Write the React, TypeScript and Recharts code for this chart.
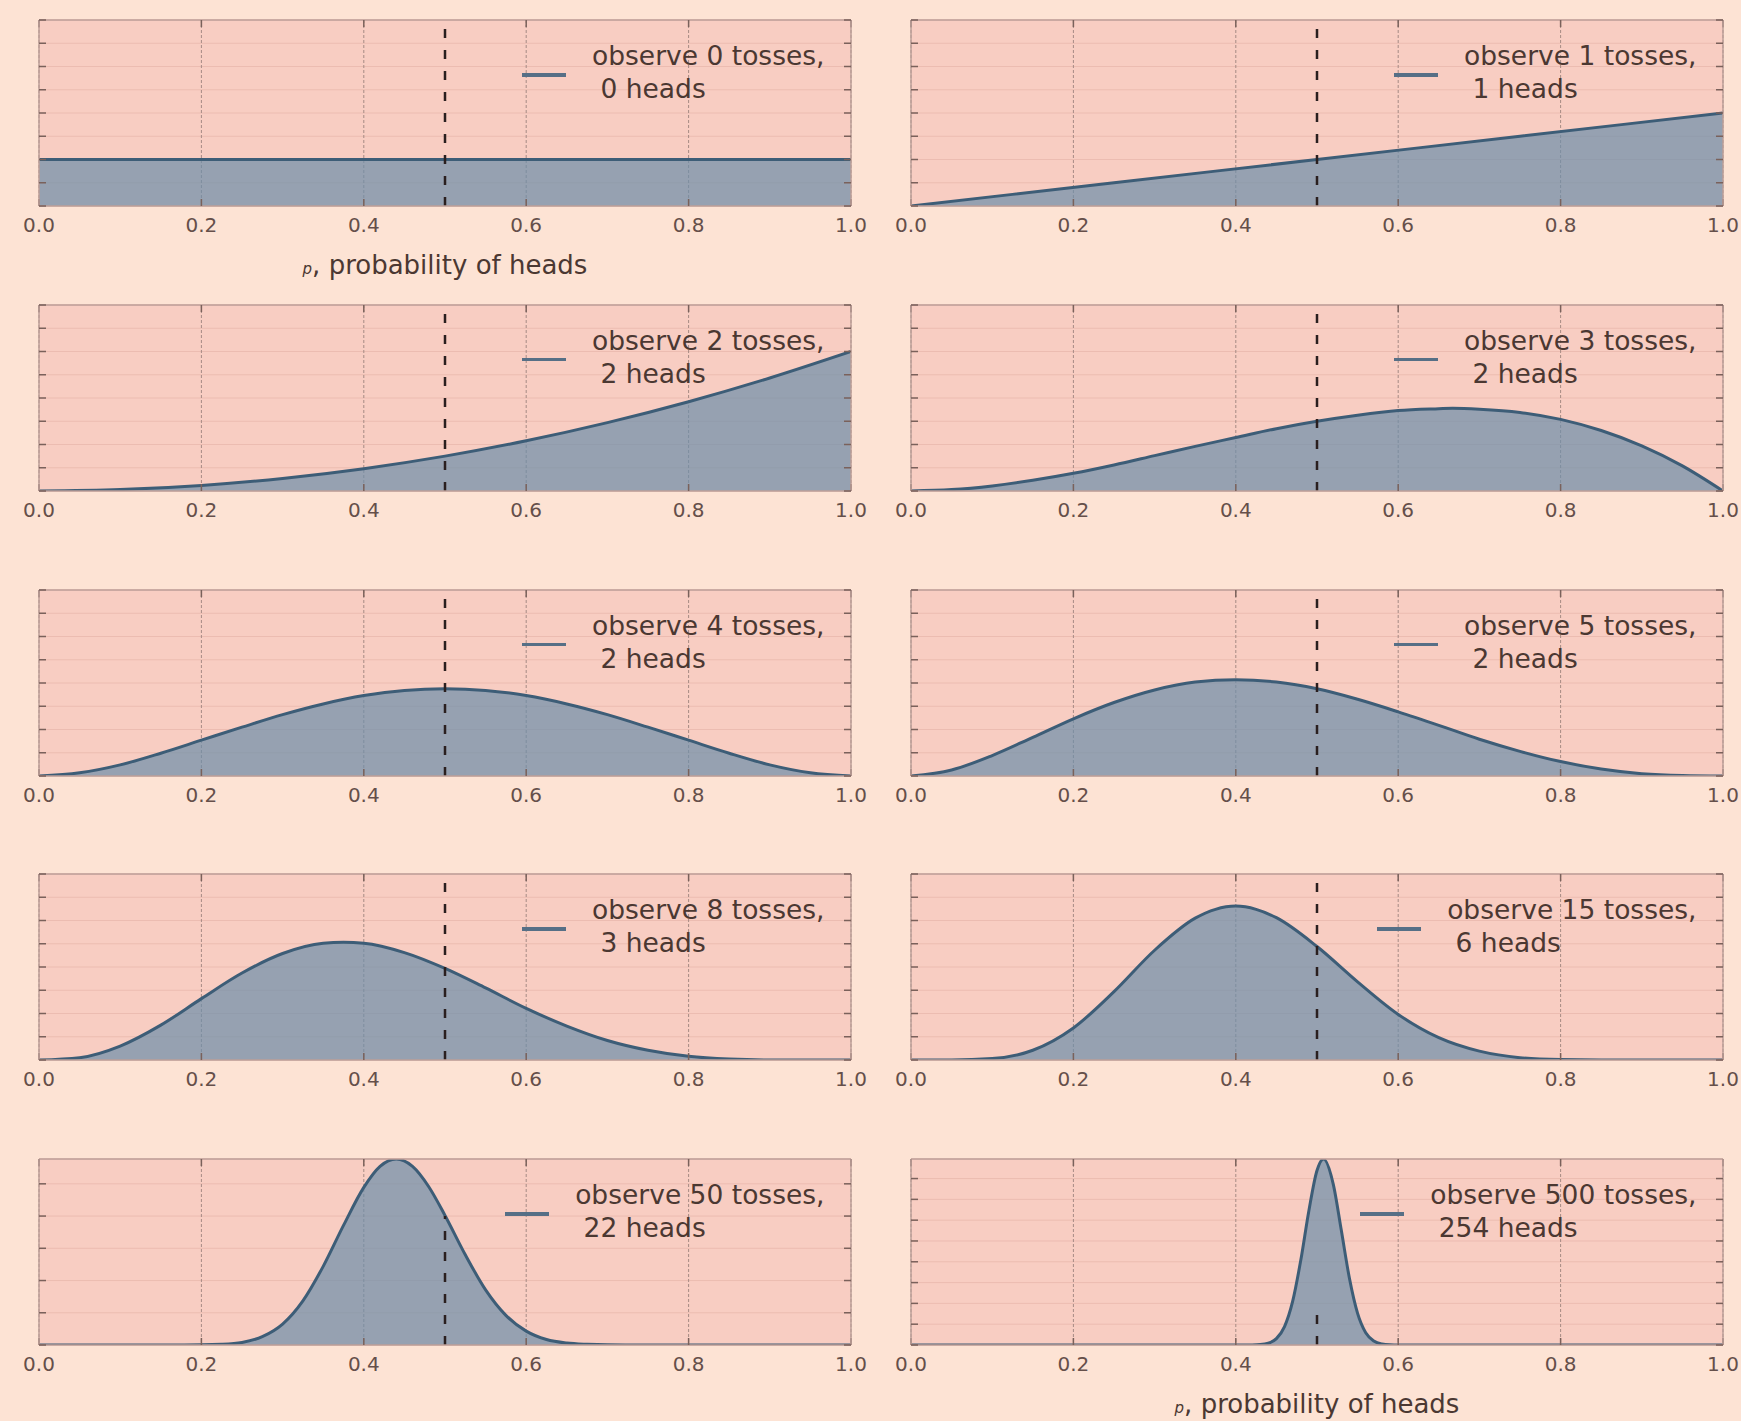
import React from 'react';
import { ComposedChart, Area, XAxis, YAxis, CartesianGrid, ReferenceLine, Legend, Label } from 'recharts';

// ---------- data ----------
const tosses = [0, 1, 2, 3, 4, 5, 8, 15, 50, 500];
const heads = [0, 1, 2, 2, 2, 2, 3, 6, 22, 254];
const xTickValues = [0, 0.2, 0.4, 0.6, 0.8, 1.0];

const px0 = [0, 0.25, 0.5, 0.75, 1];
const py0 = [1, 1, 1, 1, 1];

const px1 = [0, 0.25, 0.5, 0.75, 1];
const py1 = [0, 0.5, 1.0, 1.5, 2.0];

const px2 = [0, 0.1, 0.2, 0.3, 0.4, 0.5, 0.6, 0.7, 0.8, 0.9, 1.0];
const py2 = [0, 0.03, 0.12, 0.27, 0.48, 0.75, 1.08, 1.47, 1.92, 2.43, 3.0];

const px3 = [0, 0.05, 0.1, 0.15, 0.2, 0.25, 0.3, 0.35, 0.4, 0.45, 0.5, 0.55, 0.6, 0.65, 0.667, 0.7, 0.75, 0.8, 0.85, 0.9, 0.95, 1.0];
const py3 = [0, 0.03, 0.11, 0.23, 0.38, 0.56, 0.76, 0.96, 1.15, 1.34, 1.5, 1.63, 1.73, 1.77, 1.78, 1.76, 1.69, 1.54, 1.3, 0.97, 0.54, 0];

const px4 = [0, 0.05, 0.1, 0.15, 0.2, 0.25, 0.3, 0.35, 0.4, 0.45, 0.5, 0.55, 0.6, 0.65, 0.7, 0.75, 0.8, 0.85, 0.9, 0.95, 1.0];
const py4 = [0, 0.07, 0.24, 0.49, 0.77, 1.05, 1.32, 1.55, 1.73, 1.84, 1.875, 1.84, 1.73, 1.55, 1.32, 1.05, 0.77, 0.49, 0.24, 0.07, 0];

const px5 = [0, 0.05, 0.1, 0.15, 0.2, 0.25, 0.3, 0.35, 0.4, 0.45, 0.5, 0.55, 0.6, 0.65, 0.7, 0.75, 0.8, 0.85, 0.9, 0.95, 1.0];
const py5 = [0, 0.13, 0.44, 0.83, 1.23, 1.58, 1.85, 2.02, 2.07, 2.02, 1.875, 1.65, 1.38, 1.09, 0.79, 0.53, 0.31, 0.15, 0.05, 0.01, 0];

const px6 = [0, 0.05, 0.1, 0.15, 0.2, 0.25, 0.3, 0.35, 0.375, 0.4, 0.45, 0.5, 0.55, 0.6, 0.65, 0.7, 0.75, 0.8, 0.85, 0.9, 1.0];
const py6 = [0, 0.05, 0.3, 0.75, 1.32, 1.87, 2.29, 2.51, 2.53, 2.51, 2.31, 1.97, 1.55, 1.11, 0.73, 0.42, 0.21, 0.08, 0.02, 0, 0];

const px7 = [0, 0.05, 0.1, 0.15, 0.2, 0.25, 0.3, 0.35, 0.375, 0.4, 0.425, 0.45, 0.5, 0.55, 0.6, 0.65, 0.7, 0.75, 0.8, 0.85, 1.0];
const py7 = [0, 0, 0.03, 0.21, 0.69, 1.47, 2.36, 3.05, 3.24, 3.31, 3.24, 3.06, 2.44, 1.68, 0.98, 0.48, 0.19, 0.05, 0.01, 0, 0];

const px8 = [0, 0.1, 0.15, 0.2, 0.225, 0.25, 0.275, 0.3, 0.325, 0.35, 0.375, 0.4, 0.42, 0.44, 0.46, 0.48, 0.5, 0.525, 0.55, 0.575, 0.6, 0.625, 0.65, 0.675, 0.7, 0.75, 0.8, 0.9, 1.0];
const py8 = [0, 0, 0, 0.004, 0.02, 0.08, 0.26, 0.65, 1.37, 2.44, 3.71, 4.89, 5.54, 5.77, 5.54, 4.91, 4.02, 2.8, 1.71, 0.92, 0.43, 0.17, 0.06, 0.02, 0.004, 0, 0, 0, 0];

const px9 = [0, 0.2, 0.4, 0.42, 0.43, 0.44, 0.45, 0.46, 0.47, 0.48, 0.49, 0.5, 0.508, 0.52, 0.53, 0.54, 0.55, 0.56, 0.57, 0.58, 0.59, 0.6, 0.8, 1.0];
const py9 = [0, 0, 0, 0.01, 0.04, 0.17, 0.61, 1.77, 4.19, 8.14, 12.91, 16.77, 17.88, 15.47, 11.0, 6.39, 3.04, 1.18, 0.38, 0.1, 0.02, 0, 0, 0];

const panelXs = [px0, px1, px2, px3, px4, px5, px6, px7, px8, px9];
const panelYs = [py0, py1, py2, py3, py4, py5, py6, py7, py8, py9];

const yTicksHalf = [0, 0.5, 1, 1.5, 2, 2.5, 3, 3.5, 4];
const yTicksOne = [0, 1, 2, 3, 4, 5];
const yTicksTwo = [0, 2, 4, 6, 8, 10, 12, 14, 16];
const yMaxes = [4, 4, 4, 4, 4, 4, 4, 4, 5.77, 17.88];
const panelYTicks = [yTicksHalf, yTicksHalf, yTicksHalf, yTicksHalf, yTicksHalf, yTicksHalf, yTicksHalf, yTicksHalf, yTicksOne, yTicksTwo];
const fairCoin = 0.5;
const vlineTop = 4;

// ---------- style ----------
const FONT = '"DejaVu Sans", Verdana, sans-serif';
const PAGE_BG = '#fde3d4';
const PLOT_BG = '#f8cdc2';
const FRAME = '#bd9f99';
const TICK = '#7a615b';
const HGRID = '#ecbcb1';
const VGRID = '#a68a84';
const FILL = '#6c8faa';
const LINE = '#3d5d77';
const LEGEND_LINE = '#566f86';
const TEXT = '#4b3832';
const TICK_TEXT = '#654f4a';

const COL_X = [39, 911];
const ROW_Y = [20, 304.5, 589.5, 874, 1159];
const PLOT_W = 812;
const PLOT_H = 186;
const ML = 30;
const MT = 10;
const XAXIS_H = 80;
const EDGE = 8;

const NoTickLabel = () => <g />;

const LegendContent = (props: any) => {
  const item = props.payload && props.payload[0];
  if (!item) return null;
  return (
    <div style={{ display: 'flex', alignItems: 'center', fontFamily: FONT }}>
      <div style={{ width: 44, height: 3.5, background: LEGEND_LINE, marginRight: 26, marginTop: 6 }} />
      <div style={{ whiteSpace: 'pre', fontSize: 26.5, lineHeight: '33px', color: TEXT }}>{item.value}</div>
    </div>
  );
};

const XLabel = (props: any) => {
  const vb = props.viewBox || { x: 0, y: 0, width: 0, height: 0 };
  const cx = vb.x + vb.width / 2;
  const y = vb.y + 68;
  return (
    <text x={cx} y={y} textAnchor="middle" fill={TEXT} fontFamily={FONT} fontSize={26}>
      <tspan fontStyle="italic" fontSize={15}>p</tspan>
      <tspan>, probability of heads</tspan>
    </text>
  );
};

function Panel({ i }: { i: number }) {
  const xs = panelXs[i];
  const ys = panelYs[i];
  const data = xs.map((x, k) => ({ x, y: ys[k] }));
  const col = i % 2;
  const row = Math.floor(i / 2);
  const name = `observe ${tosses[i]} tosses,\n ${heads[i]} heads`;
  const showLabel = i === 0 || i === 9;
  const yMax = yMaxes[i];
  const yT = panelYTicks[i];
  const axisLine = { stroke: FRAME, strokeWidth: 1.5 };
  const tickLine = { stroke: TICK, strokeWidth: 1.5 };
  return (
    <div style={{ position: 'absolute', left: COL_X[col] - ML, top: ROW_Y[row] - MT }}>
      <ComposedChart
        width={PLOT_W + 2 * ML}
        height={MT + PLOT_H + XAXIS_H}
        data={data}
        margin={{ top: MT, right: ML, bottom: 0, left: ML }}
      >
        <CartesianGrid horizontal vertical={false} fill={PLOT_BG} stroke={HGRID} strokeWidth={1} />
        <CartesianGrid horizontal={false} vertical stroke={VGRID} strokeDasharray="3 2" strokeWidth={1} />
        <XAxis
          dataKey="x"
          type="number"
          domain={[0, 1]}
          ticks={xTickValues}
          interval={0}
          allowDataOverflow
          tickFormatter={(v: number) => v.toFixed(1)}
          height={XAXIS_H}
          tickSize={0}
          tickMargin={11.5}
          tick={{ fill: TICK_TEXT, fontSize: 20, fontFamily: FONT }}
          axisLine={false}
          tickLine={false}
        >
          {showLabel ? <Label content={XLabel} /> : null}
        </XAxis>
        {/* frame edges with inward tick marks */}
        <XAxis
          xAxisId="bt"
          orientation="bottom"
          mirror
          type="number"
          dataKey="x"
          domain={[0, 1]}
          ticks={xTickValues}
          interval={0}
          allowDataOverflow
          height={EDGE}
          tickSize={7}
          tick={NoTickLabel}
          axisLine={axisLine}
          tickLine={tickLine}
        />
        <XAxis
          xAxisId="top"
          orientation="top"
          mirror
          type="number"
          dataKey="x"
          domain={[0, 1]}
          ticks={xTickValues}
          interval={0}
          allowDataOverflow
          height={EDGE}
          tickSize={7}
          tick={NoTickLabel}
          axisLine={axisLine}
          tickLine={tickLine}
        />
        <YAxis
          type="number"
          mirror
          domain={[0, yMax]}
          ticks={yT}
          interval={0}
          allowDataOverflow
          width={EDGE}
          tickSize={7}
          tick={NoTickLabel}
          axisLine={axisLine}
          tickLine={tickLine}
        />
        <YAxis
          yAxisId="right"
          orientation="right"
          mirror
          type="number"
          domain={[0, yMax]}
          ticks={yT}
          interval={0}
          allowDataOverflow
          width={EDGE}
          tickSize={7}
          tick={NoTickLabel}
          axisLine={axisLine}
          tickLine={tickLine}
        />
        <Area
          type="monotone"
          dataKey="y"
          name={name}
          stroke={LINE}
          strokeWidth={3}
          fill={FILL}
          fillOpacity={0.7}
          dot={false}
          activeDot={false}
          isAnimationActive={false}
        />
        <ReferenceLine
          segment={[{ x: fairCoin, y: 0 }, { x: fairCoin, y: vlineTop }]}
          stroke="#2a1f1f"
          strokeWidth={2.5}
          strokeDasharray="9 12"
        />
        <Legend
          layout="vertical"
          align="center"
          verticalAlign="middle"
          content={LegendContent}
          wrapperStyle={{ top: 29, right: ML + 26.5, width: 'auto', height: 'auto' }}
        />
      </ComposedChart>
    </div>
  );
}

export default function App() {
  return (
    <div style={{ position: 'absolute', left: 0, top: 0, width: 1741, height: 1421, background: PAGE_BG, overflow: 'hidden' }}>
      {panelXs.map((_, i) => (
        <Panel key={i} i={i} />
      ))}
    </div>
  );
}
